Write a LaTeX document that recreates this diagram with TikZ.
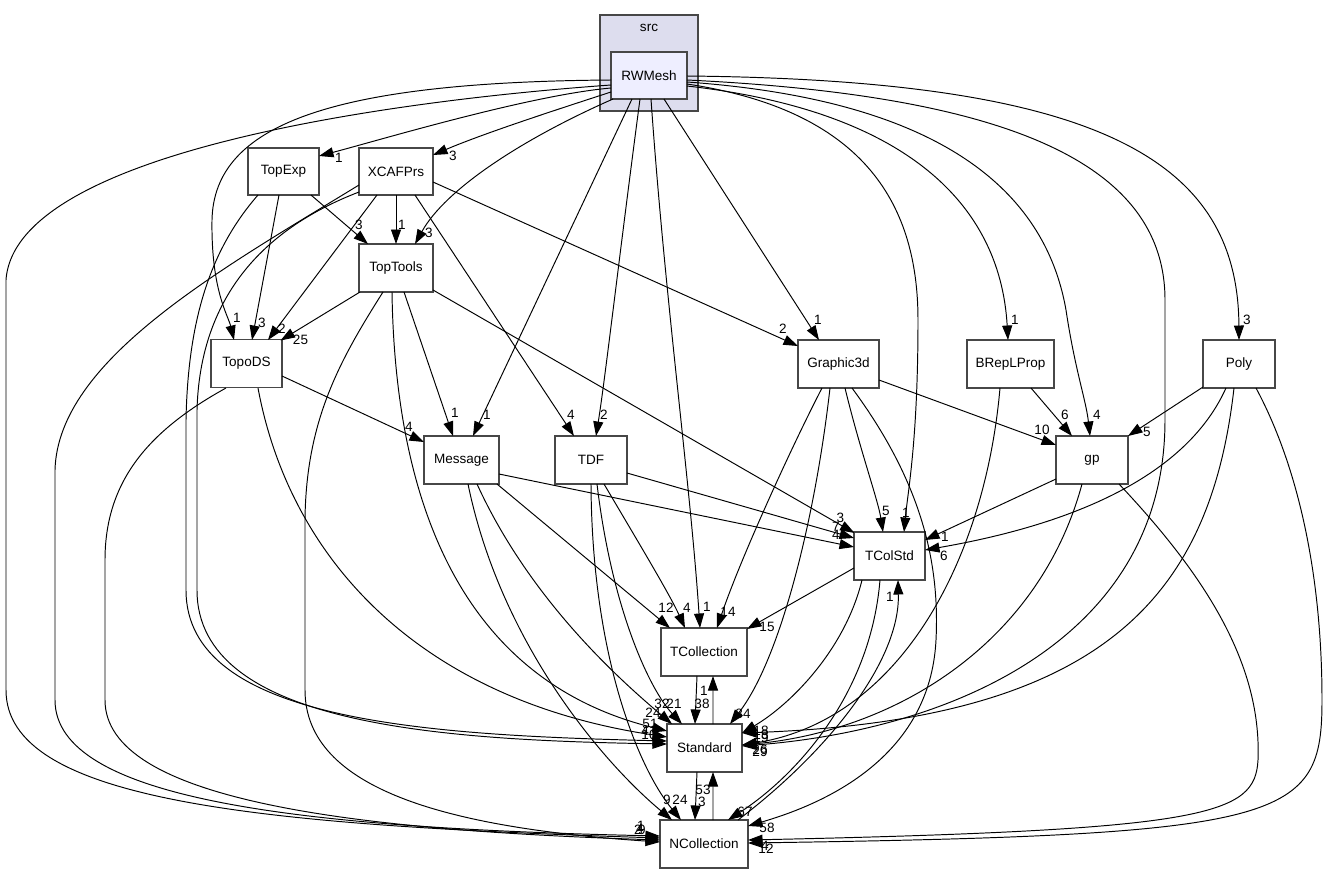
\documentclass[tikz,border=0pt]{standalone}
\usepackage{fontspec}
\setmainfont{Liberation Sans}
\usepackage{xcolor}
\usepackage{tikz}
\usetikzlibrary{arrows.meta,calc}

\definecolor{srcfill}{HTML}{DDDDEE}
\definecolor{dirfill}{HTML}{EEEEFF}

\begin{document}
\begin{tikzpicture}[
    x=0.02cm, y=-0.02cm,
    dirbox/.style={draw=black!72, line width=1pt, fill=white,
                   minimum height=0.96cm, inner sep=0pt,
                   font=\fontsize{7.7}{9}\selectfont},
    dep/.style={-{Triangle[length=2.9mm, width=2mm]}, line width=0.55pt},
    cnt/.style={font=\fontsize{7.7}{9}\selectfont, inner sep=0pt},
  ]
  \useasboundingbox (0,0) rectangle (1323,873);

  % src cluster
  \node[draw=black!72, line width=1pt, fill=srcfill, inner sep=0pt,
        minimum width=1.96cm, minimum height=1.92cm] (src) at (649,63) {};
  \node[font=\fontsize{7.7}{9}\selectfont] (srctitle) at (649,28) {src};
  \node[dirbox, fill=dirfill, minimum width=1.52cm, minimum height=0.94cm] (RWMesh) at (649,75.5) {RWMesh};

  \node[dirbox, minimum width=1.42cm, minimum height=0.94cm] (TopExp) at (283.5,171.5) {TopExp};
  \node[dirbox, minimum width=1.48cm, minimum height=0.94cm] (XCAFPrs) at (396,171.5) {XCAFPrs};
  \node[dirbox, minimum width=1.48cm] (TopTools) at (396,268) {TopTools};
  \node[dirbox, minimum width=1.42cm] (TopoDS) at (246.5,363.5) {TopoDS};
  \node[dirbox, minimum width=1.50cm] (Message) at (461.5,460) {Message};
  \node[dirbox, minimum width=1.44cm] (TDF) at (591,460) {TDF};
  \node[dirbox, minimum width=1.62cm] (Graphic3d) at (838.5,364) {Graphic3d};
  \node[dirbox, minimum width=1.74cm] (BRepLProp) at (1010.5,364) {BRepLProp};
  \node[dirbox, minimum width=1.44cm] (Poly) at (1239,364) {Poly};
  \node[dirbox, minimum width=1.44cm] (gp) at (1092,460) {gp};
  \node[dirbox, minimum width=1.42cm] (TColStd) at (889.5,556) {TColStd};
  \node[dirbox, minimum width=1.72cm] (TCollection) at (704,652) {TCollection};
  \node[dirbox, minimum width=1.50cm] (Standard) at (704.5,748) {Standard};
  \node[dirbox, minimum width=1.76cm] (NCollection) at (704,844) {NCollection};

  % RWMesh -> upper left
  \draw[dep] ($(RWMesh)+(-38,12.5)$) .. controls (530,95) and (380,140) ..
    ($(TopExp)+(35.5,-15.5)$) node[cnt, shift={(20,2)}] {1};
  \draw[dep] ($(RWMesh)+(-38,16.5)$) .. controls (540,115) and (480,135) ..
    ($(XCAFPrs)+(37,-16.5)$) node[cnt, shift={(20,1)}] {3};
  \draw[dep] ($(RWMesh)+(-36,23.5)$) .. controls (520,140) and (445,190) ..
    ($(TopTools)+(19,-24)$) node[cnt, shift={(14,-11)}] {3};
  \draw[dep] ($(RWMesh)+(-38,4.5)$) .. controls (330,82) and (214,125) .. (212,220)
    .. controls (211,290) and (228,315) ..
    ($(TopoDS)+(-12.5,-23.5)$) node[cnt, shift={(3,-22)}] {1};
  \draw[dep] ($(RWMesh)+(-38,9.5)$) .. controls (400,100) and (15,150) .. (6,280)
    -- (6,690) .. controls (6,800) and (250,825) ..
    ($(NCollection)+(-44,-6)$) node[cnt, shift={(-22,-8)}] {2};

  % RWMesh -> middle
  \draw[dep] ($(RWMesh)+(-17,23.5)$) -- ($(Message)+(11.5,-24)$) node[cnt, shift={(14,-21)}] {1};
  \draw[dep] ($(RWMesh)+(-9,23.5)$) .. controls (620,250) and (605,380) ..
    ($(TDF)+(5,-24)$) node[cnt, shift={(8,-21)}] {2};
  \draw[dep] ($(RWMesh)+(2,23.5)$) .. controls (665,300) and (690,480) ..
    ($(TCollection)+(-4,-24)$) node[cnt, shift={(7,-21)}] {1};
  \draw[dep] ($(RWMesh)+(15,23.5)$) -- ($(Graphic3d)+(-19.5,-24)$) node[cnt, shift={(-1,-20)}] {1};

  % RWMesh -> right
  \draw[dep] ($(RWMesh)+(38,8.5)$) .. controls (860,110) and (918,200) .. (918,320)
    .. controls (918,440) and (908,490) ..
    ($(TColStd)+(14.5,-24)$) node[cnt, shift={(2,-19)}] {1};
  \draw[dep] ($(RWMesh)+(38,10.5)$) .. controls (900,110) and (1000,200) ..
    ($(BRepLProp)+(-2.5,-24)$) node[cnt, shift={(7,-20)}] {1};
  \draw[dep] ($(RWMesh)+(38,6.5)$) .. controls (940,100) and (1045,190) .. (1066,310)
    .. controls (1075,370) and (1086,400) ..
    ($(gp)+(-2,-24)$) node[cnt, shift={(7,-21)}] {4};
  \draw[dep] ($(RWMesh)+(38,0.5)$) .. controls (1100,80) and (1238,160) ..
    ($(Poly)+(0,-24)$) node[cnt, shift={(8,-20)}] {3};
  \draw[dep] ($(RWMesh)+(38,4.5)$) .. controls (1000,95) and (1165,160) .. (1165,300)
    -- (1165,420) .. controls (1165,640) and (950,730) ..
    ($(Standard)+(37.5,-2)$) node[cnt, shift={(18,6)}] {29};

  % TopExp
  \draw[dep] ($(TopExp)+(27.5,23.5)$) -- ($(TopTools)+(-28,-24)$) node[cnt, shift={(-9,-19)}] {3};
  \draw[dep] ($(TopExp)+(-4.5,23.5)$) -- ($(TopoDS)+(5.5,-23.5)$) node[cnt, shift={(10,-17)}] {3};
  \draw[dep] ($(TopExp)+(-25.5,23.5)$) .. controls (210,250) and (188,320) .. (186,420)
    -- (186,590) .. controls (186,720) and (420,735) ..
    ($(Standard)+(-37.5,-7)$) node[cnt, shift={(-18,-10)}] {41};

  % XCAFPrs
  \draw[dep] ($(XCAFPrs)+(0,23.5)$) -- ($(TopTools)+(0,-24)$) node[cnt, shift={(6,-19)}] {1};
  \draw[dep] ($(XCAFPrs)+(-19,23.5)$) -- ($(TopoDS)+(21.5,-23.5)$) node[cnt, shift={(14,-11)}] {2};
  \draw[dep] ($(XCAFPrs)+(19,23.5)$) -- ($(TDF)+(-17,-24)$) node[cnt, shift={(-3,-21)}] {4};
  \draw[dep] ($(XCAFPrs)+(37,10.5)$) -- ($(Graphic3d)+(-40.5,-18)$) node[cnt, shift={(-15,-17)}] {2};
  \draw[dep] ($(XCAFPrs)+(-37,13.5)$) .. controls (220,270) and (58,360) .. (55,470)
    -- (55,700) .. controls (55,800) and (300,828) ..
    ($(NCollection)+(-44,-8)$) node[cnt, shift={(-20,-7)}] {4};
  \draw[dep] ($(XCAFPrs)+(-37,20.5)$) .. controls (260,230) and (200,300) .. (197,410)
    -- (197,590) .. controls (197,725) and (440,740) ..
    ($(Standard)+(-37.5,-4)$) node[cnt, shift={(-18,-9)}] {10};

  % TopTools
  \draw[dep] ($(TopTools)+(-36,24)$) -- ($(TopoDS)+(34,-23)$) node[cnt, shift={(20,-1)}] {25};
  \draw[dep] ($(TopTools)+(8,24)$) -- ($(Message)+(-8.5,-24)$) node[cnt, shift={(2,-23)}] {1};
  \draw[dep] ($(TopTools)+(37,22)$) -- ($(TColStd)+(-35,-23)$) node[cnt, shift={(-14,-15)}] {3};
  \draw[dep] ($(TopTools)+(-4,24)$) .. controls (395,500) and (460,680) ..
    ($(Standard)+(-37.5,-17)$) node[cnt, shift={(-14,-18)}] {24};
  \draw[dep] ($(TopTools)+(-13,24)$) .. controls (340,360) and (306,420) .. (305,520)
    -- (305,690) .. controls (305,790) and (450,828) ..
    ($(NCollection)+(-44,-2)$) node[cnt, shift={(-19,-16)}] {1};

  % TopoDS
  \draw[dep] ($(TopoDS)+(35.5,12.5)$) -- ($(Message)+(-37.5,-18)$) node[cnt, shift={(-15,-15)}] {4};
  \draw[dep] ($(TopoDS)+(11.5,24.5)$) .. controls (290,560) and (420,700) ..
    ($(Standard)+(-37.5,-11)$) node[cnt, shift={(-17,-13)}] {51};
  \draw[dep] ($(TopoDS)+(-20.5,24.5)$) .. controls (150,430) and (105,480) .. (105,560)
    -- (105,700) .. controls (105,800) and (350,830) ..
    ($(NCollection)+(-44,-4)$) node[cnt, shift={(-18,-10)}] {9};

  % Message
  \draw[dep] ($(Message)+(37.5,14)$) -- ($(TColStd)+(-35.5,-9)$) node[cnt, shift={(-18,-12)}] {4};
  \draw[dep] ($(Message)+(35.5,24)$) -- ($(TCollection)+(-34,-24)$) node[cnt, shift={(-4,-20)}] {12};
  \draw[dep] ($(Message)+(15.5,24)$) .. controls (530,600) and (620,680) ..
    ($(Standard)+(-32.5,-24)$) node[cnt, shift={(-10,-20)}] {32};
  \draw[dep] ($(Message)+(6.5,24)$) .. controls (500,640) and (600,760) ..
    ($(NCollection)+(-32,-24)$) node[cnt, shift={(-5,-20)}] {9};

  % TDF
  \draw[dep] ($(TDF)+(36,13)$) -- ($(TColStd)+(-35.5,-18)$) node[cnt, shift={(-18,-11)}] {7};
  \draw[dep] ($(TDF)+(13,24)$) .. controls (640,545) and (670,595) ..
    ($(TCollection)+(-19,-24)$) node[cnt, shift={(2,-20)}] {4};
  \draw[dep] ($(TDF)+(6,24)$) .. controls (612,610) and (650,690) ..
    ($(Standard)+(-22.5,-24)$) node[cnt, shift={(-8,-20)}] {21};
  \draw[dep] ($(TDF)+(0,24)$) .. controls (592,660) and (640,770) ..
    ($(NCollection)+(-23,-24)$) node[cnt, shift={(-1,-20)}] {24};

  % Graphic3d
  \draw[dep] ($(Graphic3d)+(40.5,16)$) -- ($(gp)+(-36,-15)$) node[cnt, shift={(-14,-15)}] {10};
  \draw[dep] ($(Graphic3d)+(6.5,24)$) .. controls (860,450) and (878,500) ..
    ($(TColStd)+(-6.5,-24)$) node[cnt, shift={(3,-21)}] {5};
  \draw[dep] ($(Graphic3d)+(-16.5,24)$) .. controls (790,450) and (740,560) ..
    ($(TCollection)+(13,-24)$) node[cnt, shift={(11,-16)}] {14};
  \draw[dep] ($(Graphic3d)+(-8.5,24)$) .. controls (815,520) and (780,660) ..
    ($(Standard)+(25.5,-24)$) node[cnt, shift={(13,-10)}] {84};
  \draw[dep] ($(Graphic3d)+(13.5,24)$) .. controls (920,480) and (940,560) .. (936,640)
    .. controls (930,760) and (820,805) ..
    ($(NCollection)+(44,-18)$) node[cnt, shift={(19,2)}] {58};

  % BRepLProp
  \draw[dep] ($(BRepLProp)+(20.5,24)$) -- ($(gp)+(-20,-24)$) node[cnt, shift={(-7,-21)}] {6};
  \draw[dep] ($(BRepLProp)+(-10.5,24)$) .. controls (985,560) and (900,720) ..
    ($(Standard)+(37.5,-3)$) node[cnt, shift={(19,-7)}] {19};

  % Poly
  \draw[dep] ($(Poly)+(-36,23)$) -- ($(gp)+(36,-24)$) node[cnt, shift={(19,-4)}] {5};
  \draw[dep] ($(Poly)+(-13,24)$) .. controls (1180,490) and (1040,530) ..
    ($(TColStd)+(35.5,-6)$) node[cnt, shift={(19,6)}] {6};
  \draw[dep] ($(Poly)+(-5,24)$) .. controls (1210,600) and (1100,720) ..
    ($(Standard)+(37.5,-15)$) node[cnt, shift={(19,2)}] {13};
  \draw[dep] ($(Poly)+(17,24)$) .. controls (1300,470) and (1322,580) .. (1322,700)
    .. controls (1322,820) and (1290,835) ..
    ($(NCollection)+(44,-1)$) node[cnt, shift={(17,3)}] {4};

  % gp
  \draw[dep] ($(gp)+(-36,19)$) -- ($(TColStd)+(35.5,-16)$) node[cnt, shift={(20,-3)}] {1};
  \draw[dep] ($(gp)+(-10,24)$) .. controls (1040,640) and (900,730) ..
    ($(Standard)+(37.5,-3)$) node[cnt, shift={(18,5)}] {26};
  \draw[dep] ($(gp)+(27,24)$) .. controls (1200,570) and (1262,660) .. (1258,760)
    .. controls (1255,815) and (1210,830) ..
    ($(NCollection)+(44,-4)$) node[cnt, shift={(18,9)}] {12};

  % TColStd
  \draw[dep] ($(TColStd)+(-35.5,12)$) -- ($(TCollection)+(43,-23)$) node[cnt, shift={(20,-2)}] {15};
  \draw[dep] ($(TColStd)+(-27.5,24)$) .. controls (845,650) and (790,705) ..
    ($(Standard)+(37.5,-15)$) node[cnt, shift={(19,-2)}] {18};
  \draw[dep] ($(TColStd)+(-9.5,24)$) .. controls (870,700) and (790,780) ..
    ($(NCollection)+(24,-24)$) node[cnt, shift={(17,-8)}] {67};

  % TCollection, Standard, NCollection
  \draw[dep] ($(TCollection)+(-7,24)$) -- ($(Standard)+(-9.5,-24)$) node[cnt, shift={(7,-20)}] {38};
  \draw[dep] ($(Standard)+(8.5,-24)$) -- ($(TCollection)+(9,24)$) node[cnt, shift={(-9,15)}] {1};
  \draw[dep] ($(Standard)+(-7.5,24)$) -- ($(NCollection)+(-9,-24)$) node[cnt, shift={(7,-18)}] {3};
  \draw[dep] ($(NCollection)+(9,-24)$) -- ($(Standard)+(8.5,24)$) node[cnt, shift={(-10,18)}] {53};
  \draw[dep] ($(NCollection)+(34,-24)$) .. controls (830,750) and (900,660) ..
    ($(TColStd)+(8.5,24)$) node[cnt, shift={(-8,17)}] {1};

\end{tikzpicture}
\end{document}
